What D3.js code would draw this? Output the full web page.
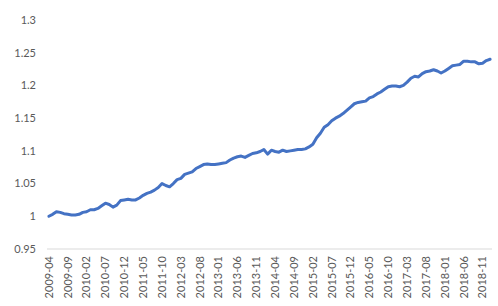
<!DOCTYPE html>
<html>
<head>
<meta charset="utf-8">
<script src="https://cdn.jsdelivr.net/npm/d3@7"></script>
<style>
  body { margin: 0; background: #fff; }
  svg { display: block; }
  text { font-family: Lato, "Open Sans", sans-serif; fill: #595959; }
</style>
</head>
<body>
<svg></svg>
<script>
// monthly values, 2009-04 .. 2019-01
var values = [
  1.000, 1.003, 1.007, 1.006, 1.004, 1.003, 1.002, 1.002, 1.003, 1.006,
  1.007, 1.010, 1.010, 1.012, 1.016, 1.020, 1.018, 1.014, 1.017, 1.024,
  1.025, 1.026, 1.025, 1.025, 1.028, 1.032, 1.035, 1.037, 1.040, 1.044,
  1.050, 1.047, 1.045, 1.050, 1.056, 1.058, 1.064, 1.066, 1.068, 1.073,
  1.076, 1.079, 1.080, 1.079, 1.079, 1.080, 1.081, 1.082, 1.086, 1.089,
  1.091, 1.092, 1.090, 1.093, 1.096, 1.097, 1.099, 1.102, 1.095, 1.101,
  1.099, 1.098, 1.101, 1.099, 1.100, 1.101, 1.102, 1.102, 1.103, 1.106,
  1.110, 1.120, 1.127, 1.136, 1.140, 1.146, 1.150, 1.153, 1.157, 1.162,
  1.167, 1.172, 1.174, 1.175, 1.176, 1.181, 1.183, 1.187, 1.190, 1.194,
  1.198, 1.199, 1.199, 1.198, 1.200, 1.205, 1.211, 1.214, 1.213, 1.218,
  1.221, 1.222, 1.224, 1.222, 1.219, 1.222, 1.226, 1.230, 1.231, 1.232,
  1.237, 1.237, 1.236, 1.236, 1.233, 1.234, 1.238, 1.240
];

var tickLabels = ["2009-04", "2009-09", "2010-02", "2010-07", "2010-12", "2011-05",
  "2011-10", "2012-03", "2012-08", "2013-01", "2013-06", "2013-11", "2014-04",
  "2014-09", "2015-02", "2015-07", "2015-12", "2016-05", "2016-10", "2017-03",
  "2017-08", "2018-01", "2018-06", "2018-11"];

var yTicks = [0.95, 1, 1.05, 1.1, 1.15, 1.2, 1.25, 1.3];

var fmtMonth = d3.timeFormat("%Y-%m");
var months = d3.timeMonth.range(new Date(2009, 3, 1), new Date(2009, 3 + values.length, 1)).map(fmtMonth);

var width = 498, height = 306;
var svg = d3.select("svg").attr("width", width).attr("height", height);

var x = d3.scaleBand().domain(months).range([47, 492]);
var y = d3.scaleLinear().domain([0.95, 1.3]).range([249, 20]);

// y labels
svg.append("g").selectAll("text")
  .data(yTicks)
  .enter()
  .append("text")
  .attr("x", 36)
  .attr("y", function(d) { return y(d); })
  .attr("dy", "0.35em")
  .attr("text-anchor", "end")
  .style("font-size", "11px")
  .text(function(d) { return d3.format("")(+d.toFixed(2)); });

// bottom axis line
svg.append("line")
  .attr("x1", x.range()[0]).attr("x2", x.range()[1])
  .attr("y1", y(0.95)).attr("y2", y(0.95))
  .attr("stroke", "#d9d9d9").attr("stroke-width", 1);

// x labels
svg.append("g").selectAll("text")
  .data(tickLabels)
  .enter()
  .append("text")
  .attr("transform", function(d) {
    return "translate(" + (x(d) + x.bandwidth() / 2) + ",256) rotate(-90)";
  })
  .attr("dy", "0.35em")
  .attr("text-anchor", "end")
  .style("font-size", "11px")
  .text(function(d) { return d; });

var line = d3.line()
  .x(function(d, i) { return x(months[i]) + x.bandwidth() / 2; })
  .y(function(d) { return y(d); });

svg.append("path")
  .datum(values)
  .attr("d", line)
  .attr("fill", "none")
  .attr("stroke", "#4472c4")
  .attr("stroke-width", 3)
  .attr("stroke-linejoin", "round")
  .attr("stroke-linecap", "round");
</script>
</body>
</html>
